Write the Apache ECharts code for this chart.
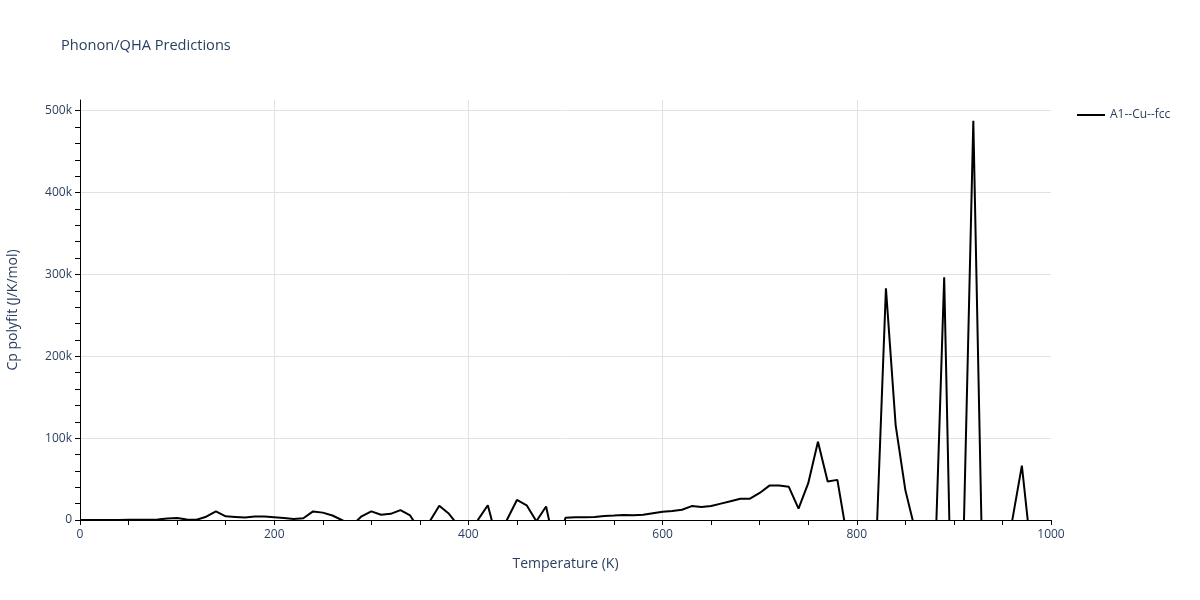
<!DOCTYPE html>
<html>
<head>
<meta charset="utf-8">
<title>Phonon/QHA Predictions</title>
<script src="https://cdn.jsdelivr.net/npm/echarts@6/dist/echarts.min.js"></script>
<style>
  html, body { margin: 0; padding: 0; background: #fff; }
  #main { width: 1200px; height: 600px; }
</style>
</head>
<body>
<div id="main"></div>
<script>
// temperature (K)
const temps = [
  0, 10, 20, 30, 40, 50, 60, 70, 80, 90,
  100, 110, 120, 130, 140, 150, 160, 170, 180, 190,
  200, 210, 220, 230, 240, 250, 260, 270, 280, 290,
  300, 310, 320, 330, 340, 350, 360, 370, 380, 390,
  400, 410, 420, 430, 440, 450, 460, 470, 480, 490,
  500, 510, 520, 530, 540, 550, 560, 570, 580, 590,
  600, 610, 620, 630, 640, 650, 660, 670, 680, 690,
  700, 710, 720, 730, 740, 750, 760, 770, 780, 790,
  800, 810, 820, 830, 840, 850, 860, 870, 880, 890,
  900, 910, 920, 930, 940, 950, 960, 970, 980, 990,
  1000
];
// Cp polyfit (J/K/mol), negative values fall outside the plotted range
const cpValues = [
  100, 100, 100, 100, 150, 200, 200, 300, 500, 1800,
  2400, 500, 300, 4000, 10500, 4500, 3800, 3000, 4200, 4300,
  3500, 2500, 1200, 2200, 10500, 9000, 5500, -300, -6750, 4500,
  10500, 6500, 7500, 12000, 5500, -13000, -2000, 17500, 7500, -7500,
  -30000, 500, 18000, -27000, 1000, 24500, 18000, -1500, 16500, -38000,
  2800, 3500, 3500, 3600, 5000, 5500, 6200, 5800, 6300, 8200,
  10000, 11000, 12500, 17000, 16000, 17000, 20000, 23000, 26000, 26000,
  33000, 42000, 42000, 40500, 14000, 45000, 95500, 47000, 49000, -21000,
  -60000, -80000, -31000, 283000, 116000, 36500, -12000, -80000, -74000, 296500,
  -263000, -20000, 487500, -100000, -50000, -60000, -1000, 66500, -44000, -30000,
  -20000
];
const seriesName = 'A1--Cu--fcc';
const yMinorTicks = [];
for (let v = 0; v <= 500000; v += 20000) yMinorTicks.push(v);

const textColor = '#2a3f5f';
const gridColor = '#e2e2e2';
const font = 'Open Sans';

const chart = echarts.init(document.getElementById('main'));
chart.setOption({
  animation: false,
  textStyle: { fontFamily: font },
  title: {
    text: 'Phonon/QHA Predictions',
    left: 56,
    top: 33,
    textStyle: { fontFamily: font, fontSize: 14.6, fontWeight: 'normal', color: textColor }
  },
  legend: {
    left: 1077,
    top: 109,
    padding: 0,
    icon: 'rect',
    itemWidth: 28,
    itemHeight: 2,
    itemGap: 6,
    textStyle: { fontFamily: font, fontSize: 12, color: textColor },
    data: [seriesName]
  },
  grid: { left: 80, right: 149, top: 100, bottom: 80, outerBoundsMode: 'none' },
  xAxis: {
    type: 'value',
    min: 0,
    max: 1000,
    interval: 200,
    name: 'Temperature (K)',
    nameLocation: 'middle',
    nameGap: 37,
    nameTextStyle: { fontFamily: font, fontSize: 14, color: textColor },
    axisLine: { show: true, lineStyle: { color: '#000', width: 1 } },
    axisTick: { show: true, length: 5, lineStyle: { color: '#000' } },
    minorTick: { show: true, splitNumber: 4, length: 5, lineStyle: { color: '#000' } },
    axisLabel: {
      margin: 9,
      fontFamily: font,
      fontSize: 12,
      color: textColor,
      formatter: v => String(v)
    },
    splitLine: { show: true, showMinLine: false, showMaxLine: false, lineStyle: { color: gridColor } }
  },
  yAxis: [
    {
      type: 'value',
      min: 0,
      max: 513000,
      interval: 100000,
      name: 'Cp polyfit (J/K/mol)',
      nameLocation: 'middle',
      nameGap: 60,
      nameTextStyle: { fontFamily: font, fontSize: 14, color: textColor },
      axisLine: { show: true, lineStyle: { color: '#000', width: 1 } },
      axisTick: { show: false },
      axisLabel: {
        margin: 8,
        fontFamily: font,
        fontSize: 12,
        color: textColor,
        showMaxLabel: false,
        formatter: v => (v === 0 ? '0' : (v / 1000) + 'k')
      },
      splitLine: { show: true, showMinLine: false, showMaxLine: false, lineStyle: { color: gridColor } }
    },
    {
      type: 'value',
      position: 'left',
      min: 0,
      max: 513000,
      interval: 20000,
      axisLine: { show: false },
      axisLabel: { show: false },
      splitLine: { show: false },
      axisTick: { show: true, length: 5, customValues: yMinorTicks, lineStyle: { color: '#000' } }
    }
  ],
  series: [
    {
      name: seriesName,
      type: 'line',
      yAxisIndex: 0,
      data: temps.map((t, i) => [t, cpValues[i]]),
      showSymbol: false,
      symbol: 'none',
      clip: true,
      itemStyle: { color: '#000' },
      lineStyle: { color: '#000', width: 2 }
    }
  ]
});
</script>
</body>
</html>
